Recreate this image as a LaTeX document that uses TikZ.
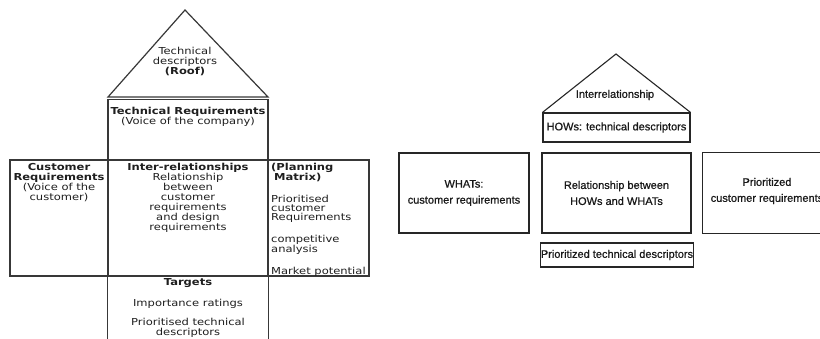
\documentclass[tikz,border=0pt]{standalone}
\usepackage{fontspec}
\setmainfont{DejaVu Sans}
\newfontfamily\verd[FakeStretch=1.2]{DejaVu Sans}
\newfontfamily\arialf[FakeBold=0.7]{Liberation Sans}
\begin{document}
\begin{tikzpicture}[x=1pt,y=-1pt,
  hline/.style={draw=black!78,line width=1.2pt},
  hbox/.style={hline,rectangle,inner sep=0pt},
  htext/.style={font=\verd\fontsize{9.6}{10}\selectfont,text=black!88,inner sep=0pt,align=center},
  rline/.style={draw=black!85,line width=1.1pt},
  rbox/.style={rline,rectangle,inner sep=0pt,align=center,
    font=\arialf\fontsize{11}{16}\selectfont,text=black!90},
  rtext/.style={font=\arialf\fontsize{11}{16}\selectfont,text=black!90,inner sep=0pt,align=center}]
\useasboundingbox (0,0) rectangle (820,338);
\fill[white] (0,0) rectangle (820,338);

% ---------------- House of Quality (left) ----------------
\node[hbox,minimum width=160pt,minimum height=60.5pt] (techreq) at (188,129.75) {};
\node[hbox,minimum width=98pt,minimum height=116pt] (cust) at (59,218) {};
\node[hbox,minimum width=160pt,minimum height=116pt] (inter) at (188,218) {};
\node[hbox,minimum width=101pt,minimum height=116pt] (plan) at (318.5,218) {};
\node[inner sep=0pt,minimum width=160pt,minimum height=64pt] (targets) at (188,308) {};
\draw[hline] (targets.north west) -- (targets.south west);
\draw[hline] (targets.north east) -- (targets.south east);

% roof
\coordinate (roofL) at (108,97);
\coordinate (roofR) at (268,97);
\coordinate (roofTop) at (185,10);
\draw[hline,line join=miter] (roofL) -- (roofTop) -- (roofR) -- cycle;

\node[htext,anchor=north] (rooftxt) at (185,47.5) {Technical\\descriptors\\\textbf{(Roof)}};
\node[htext,anchor=north] (techtxt) at (188,107) {\textbf{Technical Requirements}\\(Voice of the company)};
\node[htext,anchor=north] (custtxt) at (59,163.5) {\textbf{Customer}\\\textbf{Requirements}\\(Voice of the\\customer)};
\node[htext,anchor=north] (intertxt) at (188,163.5) {\textbf{Inter-relationships}\\Relationship\\between\\customer\\requirements\\and design\\requirements};
\node[htext,anchor=north west,align=left,font=\verd\fontsize{9.6}{9.5}\selectfont] (plantitle) at (271,163.5) {\textbf{(Planning}\\\hspace{3pt}\textbf{Matrix)}};
\node[htext,anchor=north west,align=left,font=\verd\fontsize{9.6}{9.2}\selectfont] (planitems) at (271,195) {Prioritised\\customer\\Requirements\\[11.5pt]competitive\\analysis\\[11pt]Market potential};
\node[htext,anchor=north] (targtitle) at (188,278.5) {\textbf{Targets}};
\node[htext,anchor=north] (targimp) at (188,299.5) {Importance ratings};
\node[htext,anchor=north] (targprio) at (188,318.5) {Prioritised technical\\descriptors};

% ---------------- Simplified house (right) ----------------
\node[rbox,minimum width=147pt,minimum height=29pt] (hows) at (616.5,127.5) {HOWs: technical descriptors};
\coordinate (rroofTop) at (616,54);
\draw[rline,line join=miter] (hows.north west) -- (rroofTop) -- (hows.north east);
\node[rtext] (interrel) at (615,95) {Interrelationship};
\node[rbox,minimum width=130pt,minimum height=80pt] (whats) at (464,193) {WHATs:\\customer requirements};
\node[rbox,minimum width=149pt,minimum height=80pt] (rel) at (616.5,193) {Relationship between\\HOWs and WHATs};
\node[inner sep=0pt,minimum width=130pt,minimum height=80pt] (prio) at (768,193) {};
\draw[rline] (prio.north east) -- (prio.north west) -- (prio.south west) -- (prio.south east);
\node[rtext] (priotxt) at (767,191) {Prioritized\\customer requirements};
\node[rbox,minimum width=148pt,minimum height=24pt] (ptd) at (617,255) {Prioritized technical descriptors};
\end{tikzpicture}
\end{document}
